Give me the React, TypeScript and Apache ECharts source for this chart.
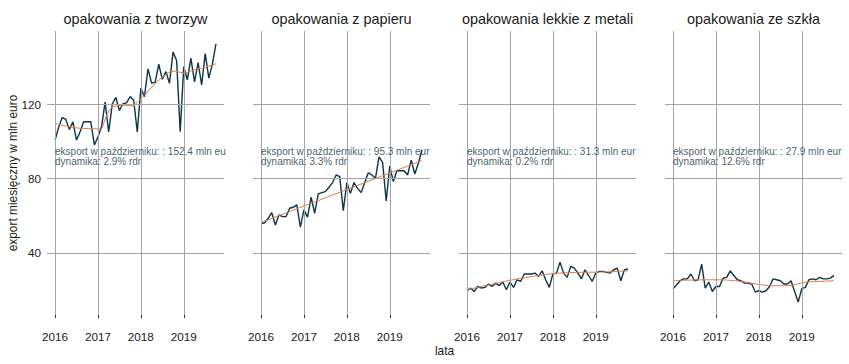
import React, { useEffect, useRef } from "react";
import * as echarts from "echarts";

// month index 0 = 2016-01 ... 45 = 2019-10
const yearLabels = ["2016", "2017", "2018", "2019"];
const yearTicks = [0, 12, 24, 36];
const yTicks = [40, 80, 120];

const panelTitles = [
  "opakowania z tworzyw",
  "opakowania z papieru",
  "opakowania lekkie z metali",
  "opakowania ze szkła",
];

const plastics = [
  100.7, 107.5, 112.8, 111.8, 106.4, 110.5, 100.7, 105.1, 110.5, 110.5, 110.5, 98.0,
  102.4, 107.8, 121.1, 105.0, 120.0, 123.6, 116.6, 120.2, 120.7, 124.1, 122.1, 105.0,
  128.6, 124.0, 139.0, 131.3, 131.7, 141.5, 133.4, 137.5, 131.2, 148.0, 143.5, 105.2,
  140.2, 133.0, 144.7, 132.0, 142.3, 130.4, 147.2, 134.0, 141.5, 152.4,
];
const paper = [
  55.6, 56.2, 58.6, 61.6, 55.0, 60.4, 59.5, 59.5, 64.0, 64.5, 65.8, 53.8,
  63.1, 59.2, 69.9, 61.3, 71.7, 72.4, 72.9, 75.3, 77.8, 81.9, 81.0, 62.7,
  77.8, 72.0, 77.8, 74.7, 72.4, 77.8, 83.1, 81.9, 80.1, 91.7, 88.5, 67.9,
  86.7, 78.3, 84.2, 84.2, 84.2, 81.9, 89.9, 82.4, 88.2, 95.3,
];
const metals = [
  19.6, 21.0, 19.2, 21.9, 21.0, 21.4, 23.2, 21.9, 23.7, 22.4, 24.3, 20.1,
  24.3, 21.4, 25.5, 24.6, 28.6, 28.6, 28.6, 29.1, 27.3, 30.3, 25.5, 21.4,
  28.6, 29.1, 35.0, 29.1, 26.8, 32.7, 31.8, 29.1, 26.0, 30.9, 27.8, 24.6,
  29.1, 30.0, 30.0, 29.5, 29.1, 30.9, 31.8, 25.0, 30.9, 31.3,
];
const glass = [
  20.7, 22.8, 25.0, 26.0, 26.0, 28.6, 25.0, 25.5, 33.9, 21.0, 24.3, 19.2,
  21.9, 21.9, 26.4, 26.8, 30.3, 27.8, 25.5, 25.0, 23.7, 23.7, 23.2, 18.9,
  19.6, 18.9, 19.6, 21.9, 26.0, 25.5, 25.0, 23.2, 23.2, 25.0, 19.2, 13.5,
  20.7, 21.4, 25.5, 26.0, 25.5, 26.8, 26.0, 26.0, 26.4, 27.9,
];

// trend (smoothed) knots: [month index, value]
const plasticsTrend = [
  [0, 109.6], [4, 107.8], [7, 107.0], [11, 106.8], [13, 106.5], [14.6, 115.0],
  [16, 118.6], [19, 119.5], [22, 119.0], [23.5, 122.0], [25, 124.8], [28, 131.2],
  [31.6, 137.0], [33.5, 137.8], [36.3, 136.6], [39, 138.6], [42, 139.8], [45, 141.7],
];
const paperTrend = [
  [0, 56.3], [45, 89.6],
];
const metalsTrend = [
  [0, 20.1], [4, 21.9], [8, 23.5], [12, 25.2], [16, 26.6], [20, 27.8],
  [24, 28.8], [28, 29.3], [32, 29.5], [36, 29.6], [40, 29.8], [45, 30.3],
];
const glassTrend = [
  [0, 25.0], [6, 25.4], [12, 25.5], [16, 25.2], [20, 24.3], [24, 23.0],
  [28, 22.3], [32, 22.3], [37, 24.2], [41, 24.6], [45, 25.0],
];

const lastValues = ["152.4", "95.3", "31.3", "27.9"];
const dynamics = ["2.9%", "3.3%", "0.2%", "12.6%"];
const annotationY = 91.8;

const seriesValues = [plastics, paper, metals, glass];
const seriesTrends = [plasticsTrend, paperTrend, metalsTrend, glassTrend];

const FONT = "'Liberation Sans', Arial, sans-serif";
const LINE_COLOR = "#0b3549";
const TREND_COLOR = "#e27c45";
const GRID_COLOR = "#a3a3a3";
const TEXT_COLOR = "#1a1a1a";

const PANEL_LEFT = 47;
const PANEL_STEP = 206;
const PANEL_W = 177;
const PANEL_TOP = 31;
const PANEL_H = 284;

export default function App() {
  const ref = useRef<HTMLDivElement>(null);

  useEffect(() => {
    document.body.style.margin = "0";
    if (!ref.current) return;
    const chart = echarts.init(ref.current, null, { renderer: "svg" });

    const grids: any[] = [];
    const xAxes: any[] = [];
    const yAxes: any[] = [];
    const series: any[] = [];
    const graphics: any[] = [];

    for (let k = 0; k < 4; k++) {
      grids.push({
        left: PANEL_LEFT + PANEL_STEP * k,
        top: PANEL_TOP,
        width: PANEL_W,
        height: PANEL_H,
      });
      xAxes.push({
        type: "value",
        gridIndex: k,
        min: -2.25,
        max: 47.25,
        axisLine: { show: false },
        splitLine: { show: false },
        axisTick: {
          show: true,
          customValues: yearTicks,
          length: 3,
          lineStyle: { color: "#333", width: 1 },
        },
        axisLabel: {
          show: true,
          customValues: yearTicks,
          formatter: (v: number) => yearLabels[yearTicks.indexOf(v)] ?? "",
          fontSize: 11.7,
          fontFamily: FONT,
          color: TEXT_COLOR,
          margin: 15,
        },
      });
      yAxes.push({
        type: "value",
        gridIndex: k,
        min: 6.555,
        max: 159.35,
        axisLine: { show: false },
        splitLine: { show: false },
        axisTick: {
          show: k === 0,
          customValues: yTicks,
          length: 3,
          lineStyle: { color: "#333", width: 1 },
        },
        axisLabel: {
          show: k === 0,
          customValues: yTicks,
          fontSize: 11.7,
          fontFamily: FONT,
          color: TEXT_COLOR,
          margin: 6,
        },
      });

      // grid lines
      series.push({
        type: "line",
        xAxisIndex: k,
        yAxisIndex: k,
        data: [],
        silent: true,
        z: 1,
        markLine: {
          silent: true,
          symbol: ["none", "none"],
          label: { show: false },
          animation: false,
          lineStyle: { color: GRID_COLOR, width: 1, type: "solid" },
          emphasis: { disabled: true },
          data: [
            ...yearTicks.map((v) => ({ xAxis: v })),
            ...yTicks.map((v) => ({ yAxis: v })),
          ],
        },
      });

      // data line
      series.push({
        type: "line",
        xAxisIndex: k,
        yAxisIndex: k,
        data: seriesValues[k].map((v, i) => [i, v]),
        showSymbol: false,
        symbol: "none",
        silent: true,
        z: 3,
        lineStyle: { color: LINE_COLOR, width: 1.4 },
      });

      // trend line
      series.push({
        type: "line",
        xAxisIndex: k,
        yAxisIndex: k,
        data: seriesTrends[k],
        showSymbol: false,
        symbol: "none",
        smooth: k === 0 ? false : 0.4,
        silent: true,
        z: 4,
        lineStyle: { color: TREND_COLOR, width: 1 },
      });

      // annotation
      series.push({
        type: "scatter",
        xAxisIndex: k,
        yAxisIndex: k,
        data: [[0, annotationY]],
        symbolSize: 0.01,
        itemStyle: { color: "rgba(0,0,0,0)" },
        silent: true,
        z: 5,
        label: {
          show: true,
          position: "inside",
          align: "left",
          verticalAlign: "middle",
          color: LINE_COLOR,
          fontSize: 10,
          fontFamily: FONT,
          lineHeight: 9.5,
          width: 172,
          overflow: "truncate",
          ellipsis: "",
          formatter: () =>
            `eksport w październiku: : ${lastValues[k]} mln eur\ndynamika: ${dynamics[k]} rdr`,
        },
      });

      graphics.push({
        type: "text",
        x: PANEL_LEFT + PANEL_STEP * k + PANEL_W / 2,
        y: 19,
        style: {
          text: panelTitles[k],
          align: "center",
          verticalAlign: "middle",
          fontSize: 14.4,
          fontFamily: FONT,
          fill: TEXT_COLOR,
        },
      });
    }

    graphics.push({
      type: "text",
      x: 13,
      y: PANEL_TOP + PANEL_H / 2,
      rotation: Math.PI / 2,
      style: {
        text: "export miesięczny w mln euro",
        align: "center",
        verticalAlign: "middle",
        fontSize: 11.9,
        fontFamily: FONT,
        fill: TEXT_COLOR,
      },
    });
    graphics.push({
      type: "text",
      x: PANEL_LEFT + (PANEL_STEP * 3 + PANEL_W) / 2,
      y: 351,
      style: {
        text: "lata",
        align: "center",
        verticalAlign: "middle",
        fontSize: 11.9,
        fontFamily: FONT,
        fill: TEXT_COLOR,
      },
    });

    chart.setOption({
      animation: false,
      backgroundColor: "#ffffff",
      grid: grids,
      xAxis: xAxes,
      yAxis: yAxes,
      series,
      graphic: graphics,
    });

    return () => chart.dispose();
  }, []);

  return <div ref={ref} style={{ width: 849, height: 364 }} />;
}
